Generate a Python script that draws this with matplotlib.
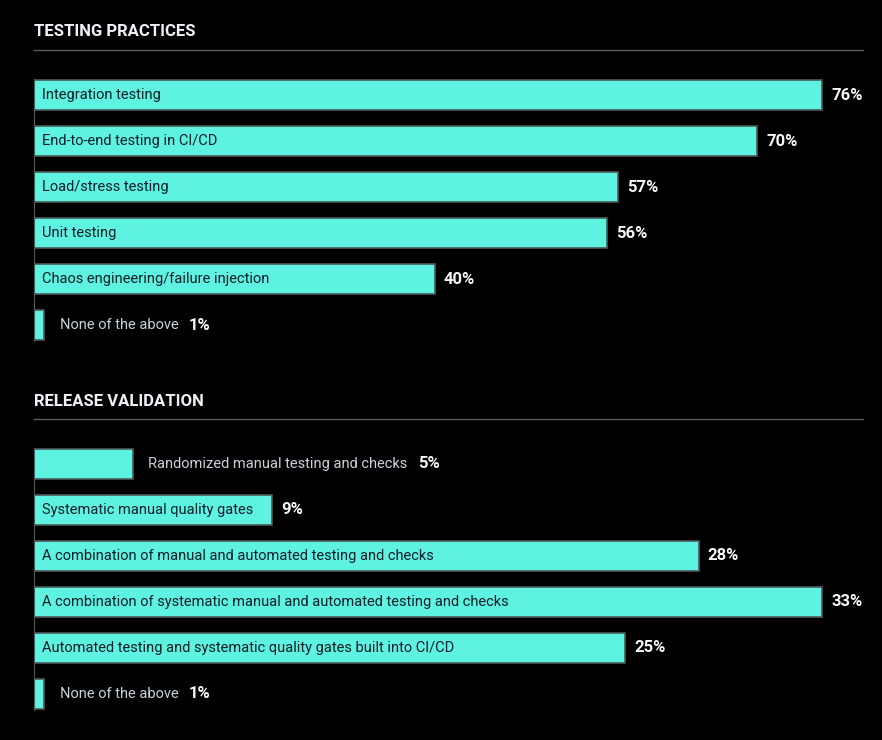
import matplotlib
matplotlib.use('Agg')
import matplotlib.pyplot as plt
from matplotlib.lines import Line2D

# data
testing_labels = ['Integration testing', 'End-to-end testing in CI/CD', 'Load/stress testing',
                  'Unit testing', 'Chaos engineering/failure injection', 'None of the above']
testing_values = [76, 70, 57, 56, 40, 1]

release_labels = ['Randomized manual testing and checks', 'Systematic manual quality gates',
                  'A combination of manual and automated testing and checks',
                  'A combination of systematic manual and automated testing and checks',
                  'Automated testing and systematic quality gates built into CI/CD',
                  'None of the above']
release_values = [5, 9, 28, 33, 25, 1]

W, H = 882, 740
BG = '#000000'
BAR = '#5ef2e0'
EDGE = '#4d5a5a'
plt.rcParams['font.family'] = ['Roboto', 'DejaVu Sans']

fig = plt.figure(figsize=(W / 100, H / 100), dpi=100, facecolor=BG)


def panel(title, title_y, top_px, labels, values, base):
    x0, x1 = 34, 863
    fig.text(x0 / W, 1 - title_y / H, title, color='#eef2f6', fontsize=12, fontweight='bold',
             va='center', ha='left')
    fig.add_artist(Line2D([x0 / W, x1 / W], [1 - (title_y + 18) / H] * 2,
                          color='#5a5a5a', lw=1, transform=fig.transFigure))
    n = len(values)
    ax = fig.add_axes([x0 / W, 1 - (top_px + 46 * n) / H, (x1 - x0) / W, 46 * n / H])
    ax.set_facecolor(BG)
    vmax = max(values)
    ax.set_xlim(base, base + (vmax - base) * (x1 - x0) / 788)
    ax.set_ylim(n - 0.5, -0.5)
    for s in ['top', 'right', 'bottom']:
        ax.spines[s].set_visible(False)
    ax.spines['left'].set_color(EDGE)
    ax.spines['left'].set_bounds(-0.34, n - 1 + 0.34)
    ax.set_xticks([])
    ax.set_yticks([])

    xl = ax.get_xlim()
    px = (x1 - x0) / (xl[1] - xl[0])  # pixels per unit
    renderer = fig.canvas.get_renderer()
    inside = [v / vmax > 0.2 for v in values]
    widths = []
    texts = []
    for i, (lab, v) in enumerate(zip(labels, values)):
        t = ax.text(base, i, lab, fontsize=10.5, va='center', ha='left')
        texts.append(t)
        tw = t.get_window_extent(renderer).width
        w = max(v - base, 10 / px)
        if inside[i]:
            w = max(w, (tw + 27) / px)
        widths.append(w)
    ax.barh(range(n), widths, left=base, height=0.67, color=BAR, edgecolor=EDGE,
            linewidth=1.2, zorder=1)
    for i, (t, v, w) in enumerate(zip(texts, values, widths)):
        t.set_zorder(3)
        if inside[i]:
            t.set_position((base + 8 / px, i))
            t.set_color('#0d1e2a')
            end = base + w + 9 / px
        else:
            t.set_position((base + w + 16 / px, i))
            t.set_color('#c9d2da')
            end = base + w + (16 + t.get_window_extent(renderer).width + 10) / px
        ax.text(end, i, f'{v}%', color='#f4f6f8', fontsize=12, fontweight='bold',
                va='center', ha='left')
    return ax


panel('TESTING PRACTICES', 32, 72, testing_labels, testing_values, 2.7)
panel('RELEASE VALIDATION', 401, 441, release_labels, release_values, 1.0)

fig.savefig('out.png', dpi=100, facecolor=BG)
